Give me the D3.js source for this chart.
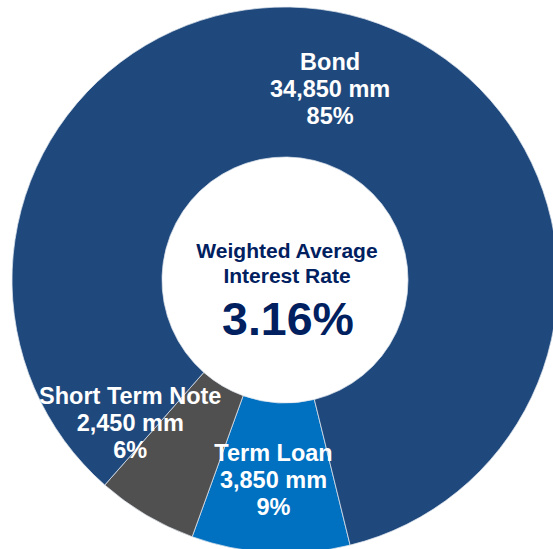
<!DOCTYPE html>
<html>
<head>
<meta charset="utf-8">
<script src="https://cdn.jsdelivr.net/npm/d3@7"></script>
<style>
html,body{margin:0;padding:0;background:#fff;overflow:hidden;}
svg{display:block;}
text{font-family:"Liberation Sans",Arial,sans-serif;font-weight:bold;}
</style>
</head>
<body>
<svg id="chart" width="553" height="549"></svg>
<script>
const categories = ["Term Loan", "Short Term Note", "Bond"];
const amounts = [3850, 2450, 34850];
const amountLabels = ["3,850 mm", "2,450 mm", "34,850 mm"];
const percentLabels = ["9%", "6%", "85%"];
const colors = ["#0070C0", "#505050", "#1F497D"];
const centerTitle = ["Weighted Average", "Interest Rate"];
const centerValue = "3.16%";

const W = 553, H = 549;
const cx = 285, cy = 280, outerR = 273, innerR = 123;
const startDeg = 166.2;

const svg = d3.select("#chart");
const g = svg.append("g").attr("transform", `translate(${cx},${cy})`);

const data = categories.map((c, i) => ({ name: c, value: amounts[i], amt: amountLabels[i], pct: percentLabels[i], color: colors[i] }));

const pie = d3.pie().sort(null).value(d => d.value)
  .startAngle(startDeg * Math.PI / 180)
  .endAngle(startDeg * Math.PI / 180 + 2 * Math.PI);
const arcs = pie(data);
const arc = d3.arc().innerRadius(innerR).outerRadius(outerR);

g.selectAll("path.slice").data(arcs).enter().append("path")
  .attr("class", "slice")
  .attr("d", arc)
  .attr("fill", d => d.data.color)
  .attr("stroke", "#dfe6ee")
  .attr("stroke-width", 0.75);

// label offsets (Short Term Note is pushed outward like the reference)
const labelShift = { "Term Loan": [-1, 2], "Short Term Note": [-54, -27], "Bond": [-2, 1] };
const lineH = 27;
const labels = g.selectAll("text.lbl").data(arcs).enter().append("text")
  .attr("class", "lbl")
  .attr("text-anchor", "middle")
  .attr("fill", "#ffffff")
  .attr("font-size", "23.5px")
  .attr("transform", d => {
    const c = arc.centroid(d);
    const s = labelShift[d.data.name];
    return `translate(${c[0] + s[0]},${c[1] + s[1] + 8})`;
  });
labels.each(function(d) {
  const t = d3.select(this);
  [d.data.name, d.data.amt, d.data.pct].forEach((line, i) => {
    t.append("tspan").attr("x", 0).attr("y", (i - 1) * lineH).text(line);
  });
});

// center text
const ct = g.append("text").attr("text-anchor", "middle").attr("fill", "#002060").attr("font-size", "21px");
centerTitle.forEach((line, i) => {
  ct.append("tspan").attr("x", 2).attr("y", -22 + i * 25).text(line);
});
g.append("text").attr("text-anchor", "middle").attr("fill", "#002060")
  .attr("font-size", "46.5px").attr("x", 3).attr("y", 55).text(centerValue);
</script>
</body>
</html>
